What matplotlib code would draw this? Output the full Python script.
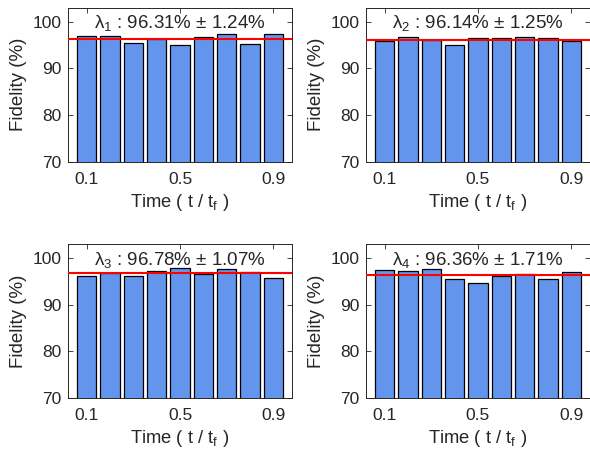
import matplotlib
matplotlib.use("Agg")
import matplotlib.pyplot as plt
import numpy as np

plt.rcParams['font.family'] = ['Liberation Sans', 'DejaVu Sans']
plt.rcParams['mathtext.fontset'] = 'custom'
plt.rcParams['mathtext.rm'] = 'Liberation Sans'
plt.rcParams['mathtext.it'] = 'Liberation Sans:italic'
plt.rcParams['mathtext.sf'] = 'Liberation Sans'

# time points (t / t_f)
times = [0.1, 0.2, 0.3, 0.4, 0.5, 0.6, 0.7, 0.8, 0.9]

# fidelity (%) for each eigenstate
fid_1 = [97.0, 96.9, 95.45, 96.2, 95.1, 96.6, 97.4, 95.2, 97.3]
fid_2 = [95.95, 96.65, 96.1, 94.95, 96.4, 96.5, 96.8, 96.4, 95.9]
fid_3 = [96.05, 96.8, 96.2, 97.25, 97.85, 96.5, 97.6, 97.05, 95.8]
fid_4 = [97.5, 97.2, 97.6, 95.5, 94.7, 96.05, 96.55, 95.5, 96.9]

means = [96.31, 96.14, 96.78, 96.36]
stds = [1.24, 1.25, 1.07, 1.71]

series = [fid_1, fid_2, fid_3, fid_4]
gray = '#262626'

fig = plt.figure(figsize=(5.9, 4.49), dpi=100)
positions = [
    [0.1153, 0.6392, 0.3797, 0.344],
    [0.6203, 0.6392, 0.3797, 0.344],
    [0.1153, 0.1136, 0.3797, 0.343],
    [0.6203, 0.1136, 0.3797, 0.343],
]

for i, (pos, vals) in enumerate(zip(positions, series)):
    ax = fig.add_axes(pos)
    ax.bar(times, vals, width=0.083, color='#6495ED', edgecolor='black', linewidth=0.9, zorder=2)
    ax.axhline(means[i], color='#FF0000', linewidth=1.5, zorder=3)
    ax.set_xlim(0.02, 0.98)
    ax.set_ylim(70, 103)
    ax.set_xticks([0.1, 0.5, 0.9])
    ax.set_xticklabels(['0.1', '0.5', '0.9'])
    ax.set_yticks([70, 80, 90, 100])
    ax.tick_params(direction='in', length=3.5, width=0.6, colors=gray, labelsize=12.5,
                   top=True, right=True, labelcolor=gray)
    ax.tick_params(axis='x', pad=7.5)
    ax.tick_params(axis='y', pad=4.5)
    for s in ax.spines.values():
        s.set_color(gray)
        s.set_linewidth(0.7)
    ax.set_xlabel('Time ( t / t$_\\mathregular{f}$ )', fontsize=13.2, color=gray, labelpad=3)
    ax.set_ylabel('Fidelity (%)', fontsize=13.5, color=gray, labelpad=4)
    ax.text(0.5, 0.898,
            '$\\mathregular{\\lambda_{%d}}$ : %.2f%% $\\mathregular{\\pm}$ %.2f%%' % (i + 1, means[i], stds[i]),
            transform=ax.transAxes, ha='center', va='center', fontsize=13.5, color=gray, zorder=4)

fig.savefig('out.png', dpi=100)
